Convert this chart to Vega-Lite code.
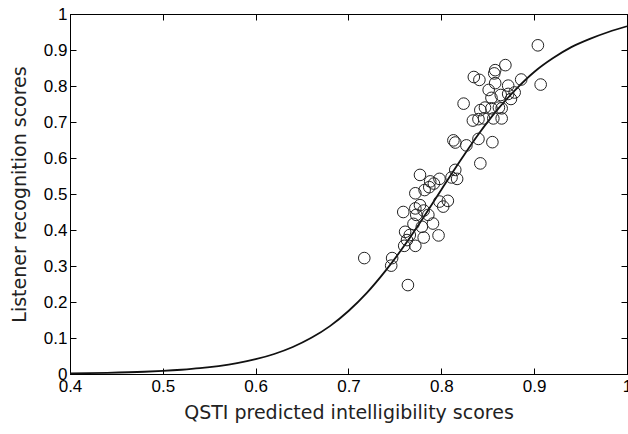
{
  "$schema": "https://vega.github.io/schema/vega-lite/v6.json",
  "width": 557,
  "height": 360,
  "autosize": {"type": "none"},
  "padding": {"left": 70, "top": 14, "right": 1, "bottom": 60},
  "background": "white",
  "config": {
    "view": {"stroke": "#000", "strokeWidth": 1},
    "axis": {
      "grid": false,
      "domainColor": "#000",
      "tickColor": "#000",
      "labelColor": "#000",
      "labelFont": "Liberation Sans",
      "labelFontSize": 17,
      "titleFont": "DejaVu Sans",
      "titleFontWeight": "normal",
      "titleFontSize": 19,
      "titleColor": "#222"
    }
  },
  "datasets": {
    "pts": [
      {"qsti": 0.904, "score": 0.913}, {"qsti": 0.869, "score": 0.858},
      {"qsti": 0.858, "score": 0.844}, {"qsti": 0.857, "score": 0.835},
      {"qsti": 0.835, "score": 0.825}, {"qsti": 0.841, "score": 0.817},
      {"qsti": 0.858, "score": 0.808}, {"qsti": 0.886, "score": 0.818},
      {"qsti": 0.907, "score": 0.804}, {"qsti": 0.872, "score": 0.801},
      {"qsti": 0.851, "score": 0.789}, {"qsti": 0.879, "score": 0.782},
      {"qsti": 0.872, "score": 0.778}, {"qsti": 0.864, "score": 0.775},
      {"qsti": 0.854, "score": 0.767}, {"qsti": 0.875, "score": 0.764},
      {"qsti": 0.824, "score": 0.751}, {"qsti": 0.847, "score": 0.740},
      {"qsti": 0.862, "score": 0.740}, {"qsti": 0.842, "score": 0.733},
      {"qsti": 0.854, "score": 0.738}, {"qsti": 0.865, "score": 0.738},
      {"qsti": 0.834, "score": 0.704}, {"qsti": 0.840, "score": 0.708},
      {"qsti": 0.846, "score": 0.710}, {"qsti": 0.856, "score": 0.710},
      {"qsti": 0.865, "score": 0.710},
      {"qsti": 0.813, "score": 0.649}, {"qsti": 0.815, "score": 0.643},
      {"qsti": 0.827, "score": 0.635}, {"qsti": 0.840, "score": 0.653},
      {"qsti": 0.855, "score": 0.644}, {"qsti": 0.842, "score": 0.585},
      {"qsti": 0.815, "score": 0.567}, {"qsti": 0.811, "score": 0.546},
      {"qsti": 0.817, "score": 0.542}, {"qsti": 0.777, "score": 0.553},
      {"qsti": 0.788, "score": 0.535}, {"qsti": 0.792, "score": 0.529},
      {"qsti": 0.798, "score": 0.542}, {"qsti": 0.787, "score": 0.519},
      {"qsti": 0.782, "score": 0.511}, {"qsti": 0.772, "score": 0.502},
      {"qsti": 0.798, "score": 0.479}, {"qsti": 0.807, "score": 0.481},
      {"qsti": 0.802, "score": 0.465}, {"qsti": 0.777, "score": 0.469},
      {"qsti": 0.772, "score": 0.460}, {"qsti": 0.781, "score": 0.454},
      {"qsti": 0.759, "score": 0.450}, {"qsti": 0.773, "score": 0.442},
      {"qsti": 0.786, "score": 0.442}, {"qsti": 0.770, "score": 0.417},
      {"qsti": 0.779, "score": 0.409}, {"qsti": 0.791, "score": 0.418},
      {"qsti": 0.761, "score": 0.395}, {"qsti": 0.766, "score": 0.386},
      {"qsti": 0.781, "score": 0.379}, {"qsti": 0.797, "score": 0.385},
      {"qsti": 0.763, "score": 0.372}, {"qsti": 0.760, "score": 0.356},
      {"qsti": 0.772, "score": 0.356}, {"qsti": 0.717, "score": 0.322},
      {"qsti": 0.747, "score": 0.322}, {"qsti": 0.746, "score": 0.301},
      {"qsti": 0.764, "score": 0.247}
    ],
    "fit": [
      {"qsti": 0.40, "score": 0.0017}, {"qsti": 0.44, "score": 0.0033},
      {"qsti": 0.48, "score": 0.0062}, {"qsti": 0.50, "score": 0.0086},
      {"qsti": 0.52, "score": 0.0118}, {"qsti": 0.54, "score": 0.0161},
      {"qsti": 0.56, "score": 0.0221}, {"qsti": 0.58, "score": 0.0301},
      {"qsti": 0.60, "score": 0.041}, {"qsti": 0.62, "score": 0.0556},
      {"qsti": 0.64, "score": 0.075}, {"qsti": 0.66, "score": 0.1005},
      {"qsti": 0.68, "score": 0.133}, {"qsti": 0.70, "score": 0.175},
      {"qsti": 0.72, "score": 0.226}, {"qsti": 0.74, "score": 0.287},
      {"qsti": 0.76, "score": 0.356}, {"qsti": 0.78, "score": 0.432},
      {"qsti": 0.80, "score": 0.512}, {"qsti": 0.82, "score": 0.591},
      {"qsti": 0.84, "score": 0.666}, {"qsti": 0.86, "score": 0.733},
      {"qsti": 0.88, "score": 0.790}, {"qsti": 0.90, "score": 0.839},
      {"qsti": 0.92, "score": 0.877}, {"qsti": 0.94, "score": 0.908},
      {"qsti": 0.96, "score": 0.931}, {"qsti": 0.98, "score": 0.950},
      {"qsti": 1.00, "score": 0.966}
    ]
  },
  "layer": [
    {
      "data": {"name": "fit"},
      "mark": {"type": "line", "color": "#111", "strokeWidth": 1.8, "interpolate": "monotone"},
      "encoding": {
        "x": {"field": "qsti", "type": "quantitative", "scale": {"domain": [0.4, 1], "nice": false},
          "axis": {"title": "QSTI predicted intelligibility scores", "values": [0.4, 0.5, 0.6, 0.7, 0.8, 0.9, 1],
            "labelExpr": "'' + datum.value", "tickSize": -6, "labelPadding": 10, "titlePadding": 9, "labelFlush": false}},
        "y": {"field": "score", "type": "quantitative", "scale": {"domain": [0, 1], "nice": false},
          "axis": {"title": "Listener recognition scores", "values": [0, 0.1, 0.2, 0.3, 0.4, 0.5, 0.6, 0.7, 0.8, 0.9, 1],
            "labelExpr": "'' + datum.value", "tickSize": -6, "labelPadding": 9, "titlePadding": 14, "labelFlush": false}}
      }
    },
    {
      "data": {"name": "pts"},
      "mark": {"type": "point", "shape": "circle", "filled": false, "color": "#222", "strokeWidth": 1, "size": 135, "opacity": 1},
      "encoding": {
        "x": {"field": "qsti", "type": "quantitative",
          "axis": {"orient": "top", "title": null, "labels": false, "values": [0.4, 0.5, 0.6, 0.7, 0.8, 0.9, 1], "tickSize": -6}},
        "y": {"field": "score", "type": "quantitative",
          "axis": {"orient": "right", "title": null, "labels": false, "values": [0, 0.1, 0.2, 0.3, 0.4, 0.5, 0.6, 0.7, 0.8, 0.9, 1], "tickSize": -6}}
      }
    }
  ],
  "resolve": {"axis": {"x": "independent", "y": "independent"}}
}
